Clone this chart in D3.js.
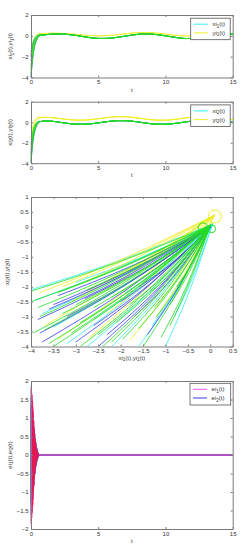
<!DOCTYPE html>
<html>
<head>
<meta charset="utf-8">
<script src="https://cdn.jsdelivr.net/npm/d3@7"></script>
<style>
  body { margin: 0; background: #fff; }
  text { font-family: "Liberation Sans", Arial, sans-serif; }
</style>
</head>
<body>
<div id="chart"></div>
<script>
// ---- time grids ----
const tEarly = [0, 0.1, 0.2, 0.3, 0.4, 0.5, 0.6];
const tLate = [0.8, 1, 1.5, 2, 2.5, 3, 3.5, 4, 4.5, 5, 5.5, 6, 6.5, 7, 7.5, 8, 8.5, 9, 9.5, 10,
               10.5, 11, 11.5, 12, 12.5, 13, 13.5, 14, 14.5, 15];

// ---- panel 1 : xi1 / yi1 ----
const p1SteadyX = [0.08, 0.1, 0.16, 0.18, 0.16, 0.1, 0.01, -0.1, -0.19, -0.25, -0.25, -0.21, -0.13, -0.03, 0.07,
                   0.15, 0.18, 0.16, 0.1, 0.0, -0.1, -0.2, -0.26, -0.25, -0.2, -0.11, -0.01, 0.09, 0.16, 0.18];
const p1SteadyY = [0.2, 0.23, 0.25, 0.25, 0.22, 0.18, 0.12, 0.06, 0.02, 0.0, 0.01, 0.05, 0.12, 0.2, 0.27,
                   0.31, 0.32, 0.3, 0.25, 0.17, 0.09, 0.02, -0.01, -0.01, 0.02, 0.07, 0.12, 0.16, 0.17, 0.17];
const p1EarlyCyan = [[-2.8, -1.7, -1.0, -0.55, -0.25, -0.05, 0.05], [-1.4, -0.75, -0.35, -0.12, 0.0, 0.06, 0.08]];
const p1EarlyBlue = [[-4.0, -2.5, -1.5, -0.85, -0.45, -0.2, -0.05], [-2.0, -1.1, -0.6, -0.3, -0.1, 0.02, 0.07]];
const p1EarlyYellow = [[-3.0, -1.6, -0.8, -0.3, 0.0, 0.15, 0.2], [-1.8, -0.9, -0.4, -0.1, 0.08, 0.18, 0.2]];
const p1EarlyGreen = [[-3.6, -2.2, -1.3, -0.75, -0.4, -0.15, 0.0], [-3.2, -1.9, -1.1, -0.6, -0.3, -0.1, 0.03],
                      [-2.4, -1.4, -0.8, -0.4, -0.15, 0.0, 0.06], [-1.6, -0.9, -0.45, -0.2, -0.05, 0.05, 0.08],
                      [-3.9, -2.35, -1.4, -0.8, -0.42, -0.17, -0.02]];

// ---- panel 2 : xi2 / yi2 ----
const p2SteadyX = [0.08, 0.12, 0.1, 0.02, -0.08, -0.16, -0.2, -0.2, -0.15, -0.07, 0.03, 0.11, 0.15, 0.15, 0.1,
                   0.02, -0.08, -0.16, -0.2, -0.2, -0.15, -0.07, 0.03, 0.11, 0.15, 0.15, 0.12, 0.08, 0.03, -0.01];
const p2SteadyY = [0.45, 0.48, 0.45, 0.38, 0.3, 0.23, 0.2, 0.21, 0.26, 0.34, 0.43, 0.5, 0.54, 0.53, 0.48,
                   0.4, 0.31, 0.24, 0.2, 0.2, 0.25, 0.33, 0.42, 0.49, 0.53, 0.53, 0.49, 0.42, 0.33, 0.26];
const p2EarlyCyan = [[-3.4, -1.9, -1.05, -0.55, -0.22, -0.05, 0.05], [-2.0, -1.0, -0.5, -0.2, -0.03, 0.05, 0.07]];
const p2EarlyBlue = [[-3.9, -2.4, -1.4, -0.8, -0.4, -0.15, 0.0], [-3.0, -1.8, -1.05, -0.55, -0.25, -0.06, 0.04]];
const p2EarlyYellow = [[-3.5, -1.7, -0.7, -0.1, 0.2, 0.35, 0.42], [-2.5, -1.1, -0.35, 0.05, 0.28, 0.4, 0.44],
                       [-1.5, -0.6, -0.1, 0.2, 0.35, 0.42, 0.45]];
const p2EarlyGreen = [[-4.0, -2.3, -1.3, -0.7, -0.35, -0.12, 0.0], [-3.7, -2.1, -1.15, -0.6, -0.28, -0.08, 0.03],
                      [-3.2, -1.8, -1.0, -0.5, -0.2, -0.04, 0.05], [-2.7, -1.5, -0.8, -0.4, -0.15, 0.0, 0.06],
                      [-2.2, -1.2, -0.6, -0.28, -0.08, 0.03, 0.07]];

// ---- panel 3 : phase plane, each line = [x0, y0, xMid, yMid] ----
const p3EndCyan = [0.05, 0.1], p3EndBlue = [0.0, 0.0], p3EndYellow = [0.1, 0.4], p3EndGreen = [0.0, 0.05];
const p3Cyan = [[-4.0, -2.1, -1.98, -1.1], [-3.9, -2.45, -1.93, -1.3], [-3.75, -2.9, -1.85, -1.54], [-3.5, -3.35, -1.73, -1.79],
                [-3.2, -3.9, -1.58, -2.1], [-2.75, -4.0, -1.35, -2.17], [-2.2, -4.0, -1.08, -2.2], [-1.6, -4.0, -0.78, -2.2],
                [-1.0, -4.0, -0.48, -2.2], [-3.0, -1.85, -1.48, -0.98], [-2.6, -3.1, -1.28, -1.68], [-1.9, -2.2, -0.93, -1.2],
                [-1.3, -3.3, -0.63, -1.8], [-0.8, -3.0, -0.38, -1.65]];
const p3Blue = [[-3.75, -3.85, -1.88, -2.11], [-3.85, -3.1, -1.93, -1.7], [-3.6, -2.75, -1.8, -1.51], [-3.5, -2.6, -1.75, -1.43],
                [-3.2, -3.0, -1.6, -1.65], [-3.0, -3.85, -1.5, -2.13], [-2.6, -3.3, -1.3, -1.85], [-2.3, -3.6, -1.15, -2.03],
                [-2.0, -2.5, -1.0, -1.4], [-2.8, -2.4, -1.4, -1.32], [-1.7, -3.0, -0.85, -1.72], [-1.4, -3.6, -0.7, -2.0],
                [-3.4, -2.3, -1.7, -1.27], [-2.5, -4.0, -1.25, -2.25], [-1.6, -2.0, -0.8, -1.15], [-3.8, -3.55, -1.9, -1.95]];
const p3Yellow = [[-3.8, -2.2, -1.85, -1.0], [-3.3, -2.0, -1.6, -0.9], [-2.9, -1.9, -1.4, -0.85], [-3.7, -3.3, -1.8, -1.6],
                  [-3.4, -3.75, -1.65, -1.86], [-2.7, -3.7, -1.3, -1.87], [-2.3, -2.9, -1.1, -1.43], [-1.8, -3.8, -0.85, -1.95],
                  [-2.0, -1.6, -0.95, -0.7], [-1.2, -3.0, -0.55, -1.5], [-3.1, -2.5, -1.5, -1.17], [-2.75, -2.15, -1.33, -0.98]];
const p3Green = [[-4.0, -2.15, -2.0, -1.15], [-4.0, -2.5, -2.0, -1.35], [-3.85, -2.7, -1.93, -1.46], [-3.8, -3.0, -1.9, -1.62],
                 [-3.7, -3.45, -1.85, -1.87], [-3.6, -3.9, -1.8, -2.13], [-3.4, -2.2, -1.7, -1.18], [-3.3, -2.9, -1.65, -1.57],
                 [-3.1, -3.55, -1.55, -1.93], [-2.9, -3.2, -1.45, -1.76], [-2.75, -2.1, -1.38, -1.13], [-2.6, -2.7, -1.3, -1.48],
                 [-2.5, -3.6, -1.25, -2.0], [-2.4, -4.0, -1.2, -2.23], [-2.2, -2.35, -1.1, -1.28], [-2.1, -3.2, -1.05, -1.8],
                 [-1.95, -3.75, -0.98, -2.1], [-1.8, -2.6, -0.9, -1.46], [-1.6, -3.4, -0.8, -1.92], [-1.5, -4.0, -0.75, -2.2],
                 [-1.35, -2.2, -0.68, -1.25], [-1.2, -3.0, -0.6, -1.7], [-1.1, -3.7, -0.55, -2.05], [-0.9, -2.6, -0.45, -1.45],
                 [-2.2, -3.85, -1.1, -2.15], [-3.95, -3.55, -1.98, -1.92], [-3.0, -2.6, -1.5, -1.42], [-0.75, -2.0, -0.38, -1.15],
                 [-3.5, -4.0, -1.75, -2.18], [-2.9, -4.0, -1.45, -2.2], [-0.9, -3.3, -0.45, -1.8], [-1.25, -2.7, -0.62, -1.5]];
const p3MarkX = [0.1, 0.03, -0.16];
const p3MarkY = [0.35, -0.06, -0.03];

// ---- panel 4 : errors, t step 0.02 up to 0.6, then flat ----
const tErr = [0, 0.02, 0.04, 0.06, 0.08, 0.1, 0.12, 0.14, 0.16, 0.18, 0.2, 0.22, 0.24, 0.26, 0.28, 0.3,
              0.32, 0.34, 0.36, 0.38, 0.4, 0.42, 0.44, 0.46, 0.48, 0.5, 0.52, 0.54, 0.56, 0.58, 0.6];
const e1Red = [1.85, -1.8, 1.75, -1.7, 1.62, -1.55, 1.45, -1.35, 1.2, -1.05, 0.92, -0.82, 0.72, -0.64, 0.56, -0.48,
               0.42, -0.36, 0.31, -0.26, 0.22, -0.18, 0.15, -0.12, 0.1, -0.08, 0.06, -0.04, 0.02, -0.01, 0];
const e1Mag = [-1.9, 1.8, -1.72, 1.66, -1.58, 1.5, -1.4, 1.3, -1.15, 1.0, -0.88, 0.78, -0.68, 0.6, -0.52, 0.45,
               -0.39, 0.34, -0.29, 0.25, -0.21, 0.17, -0.14, 0.11, -0.09, 0.07, -0.05, 0.03, -0.02, 0.01, 0];
const e2BlueA = [1.55, -1.6, 1.55, -1.5, 1.45, -1.4, 1.3, -1.2, 1.1, -1.0, 0.9, -0.82, 0.74, -0.66, 0.58, -0.52,
                 0.46, -0.4, 0.35, -0.3, 0.26, -0.22, 0.19, -0.16, 0.13, -0.1, 0.08, -0.06, 0.04, -0.02, 0];
const e2BlueB = [-1.3, 1.35, -1.3, 1.25, -1.2, 1.15, -1.05, 0.98, -0.9, 0.82, -0.74, 0.66, -0.58, 0.52, -0.46, 0.4,
                 -0.35, 0.3, -0.26, 0.22, -0.19, 0.16, -0.13, 0.11, -0.09, 0.07, -0.05, 0.04, -0.03, 0.01, 0];

const xTicksT = [0, 5, 10, 15];
const yTicks12 = [-4, -2, 0, 2];
const xTicks3 = [-4, -3.5, -3, -2.5, -2, -1.5, -1, -0.5, 0, 0.5];
const yTicks3 = [-4, -3.5, -3, -2.5, -2, -1.5, -1, -0.5, 0, 0.5, 1];
const yTicks4 = [-2, -1.5, -1, -0.5, 0, 0.5, 1, 1.5, 2];

const col = {cyan: "#30eef0", blue: "#3a3ae6", yellow: "#eeee22", green: "#22dd22",
             red: "#f01848", mag: "#ff55ee", axis: "#7a7a7a", text: "#333"};

const svg = d3.select("#chart").append("svg").attr("width", 250).attr("height", 550);

const left = 31, right = 232.7;

function frame(g, x, y, xt, yt, x0, x1, y0, y1) {
  g.append("g").attr("transform", "translate(0," + y1 + ")")
    .call(d3.axisBottom(x).tickValues(xt).tickSize(-2).tickSizeOuter(0).tickPadding(2.5).tickFormat(d3.format("")));
  g.append("g").attr("transform", "translate(0," + y0 + ")")
    .call(d3.axisTop(x).tickValues(xt).tickSize(-2).tickSizeOuter(0).tickFormat(""));
  g.append("g").attr("transform", "translate(" + x0 + ",0)")
    .call(d3.axisLeft(y).tickValues(yt).tickSize(-2).tickSizeOuter(0).tickPadding(2.5).tickFormat(d3.format("")));
  g.append("g").attr("transform", "translate(" + x1 + ",0)")
    .call(d3.axisRight(y).tickValues(yt).tickSize(-2).tickSizeOuter(0).tickFormat(""));
  g.selectAll(".domain").attr("stroke", col.axis);
  g.selectAll(".tick line").attr("stroke", col.axis);
  g.selectAll(".tick text").attr("fill", col.text).style("font-size", "6px");
}

function subLabel(g, parts, x, y, rotate) {
  const t = g.append("text").attr("x", x).attr("y", y).attr("text-anchor", "middle")
    .attr("fill", col.text).style("font-size", "6px");
  if (rotate) t.attr("transform", "rotate(-90," + x + "," + y + ")");
  parts.forEach(p => {
    t.append("tspan").text(p[0]);
    t.append("tspan").attr("dy", 1.5).style("font-size", "4.5px").text(p[1]);
    t.append("tspan").attr("dy", -1.5).text(p[2]);
  });
}

function legend(g, x0, y0, w, h, items) {
  g.append("rect").attr("x", x0).attr("y", y0).attr("width", w).attr("height", h)
    .attr("fill", "#fff").attr("stroke", "#555").attr("stroke-width", 0.8);
  items.forEach((it, i) => {
    const yy = y0 + 6 + i * 8.7;
    g.append("line").attr("x1", x0 + 3).attr("x2", x0 + 17).attr("y1", yy).attr("y2", yy)
      .attr("stroke", it.color).attr("stroke-width", 1);
    subLabel(g, [it.label], x0 + 28, yy + 2, false);
  });
}

function timePanel(top, bottom, steadyX, steadyY, early, idx) {
  const g = svg.append("g");
  const x = d3.scaleLinear().domain([0, 15]).range([left, right]);
  const y = d3.scaleLinear().domain([-4, 2]).range([bottom, top]);
  const line = d3.line().x(d => x(d[0])).y(d => y(d[1])).curve(d3.curveMonotoneX);
  const groups = [["cyan", early.cyan, steadyX], ["yellow", early.yellow, steadyY],
                  ["blue", early.blue, steadyX], ["green", early.green, steadyX]];
  groups.forEach(([c, list, steady]) => {
    list.forEach(vals => {
      const pts = tEarly.map((t, i) => [t, vals[i]]).concat(tLate.map((t, i) => [t, steady[i]]));
      g.append("path").attr("d", line(pts)).attr("fill", "none").attr("stroke", col[c]).attr("stroke-width", 0.75);
    });
  });
  frame(g, x, y, xTicksT, yTicks12, left, right, top, bottom);
  g.append("text").attr("x", x(7.5)).attr("y", bottom + 14).attr("text-anchor", "middle")
    .attr("fill", col.text).style("font-size", "6px").text("t");
  subLabel(g, [["xi", idx, "(t),"], ["yi", idx, "(t)"]], 12, (top + bottom) / 2, true);
  legend(g, 190.7, top + 3.2, 39.5, 21.5, [
    {color: col.cyan, label: ["xi", idx, "(t)"]},
    {color: col.yellow, label: ["yi", idx, "(t)"]}
  ]);
}

timePanel(15, 77.5, p1SteadyX, p1SteadyY,
  {cyan: p1EarlyCyan, blue: p1EarlyBlue, yellow: p1EarlyYellow, green: p1EarlyGreen}, "1");
timePanel(101.7, 163.2, p2SteadyX, p2SteadyY,
  {cyan: p2EarlyCyan, blue: p2EarlyBlue, yellow: p2EarlyYellow, green: p2EarlyGreen}, "2");

// ---- panel 3 ----
(function () {
  const top = 197, bottom = 346.5;
  const g = svg.append("g");
  const x = d3.scaleLinear().domain([-4, 0.5]).range([left, right]);
  const y = d3.scaleLinear().domain([-4, 1]).range([bottom, top]);
  g.append("clipPath").attr("id", "clip3").append("rect")
    .attr("x", left).attr("y", top).attr("width", right - left).attr("height", bottom - top);
  const plot = g.append("g").attr("clip-path", "url(#clip3)");
  const line = d3.line().x(d => x(d[0])).y(d => y(d[1])).curve(d3.curveMonotoneX);
  const groups = [[p3Cyan, p3EndCyan, col.cyan], [p3Yellow, p3EndYellow, col.yellow],
                  [p3Blue, p3EndBlue, col.blue], [p3Green, p3EndGreen, col.green]];
  groups.forEach(([list, end, c]) => {
    list.forEach(r => {
      plot.append("path").attr("d", line([[r[0], r[1]], [r[2], r[3]], end]))
        .attr("fill", "none").attr("stroke", c).attr("stroke-width", 0.8);
    });
  });
  const mcol = [col.yellow, col.green, col.green], mr = [6.5, 4, 5];
  p3MarkX.forEach((mx, i) => {
    plot.append("circle").attr("cx", x(mx)).attr("cy", y(p3MarkY[i])).attr("r", mr[i])
      .attr("fill", "none").attr("stroke", mcol[i]).attr("stroke-width", 1);
  });
  frame(g, x, y, xTicks3, yTicks3, left, right, top, bottom);
  subLabel(g, [["xi", "1", "(t),"], ["yi", "1", "(t)"]], x(-1.75), bottom + 13, false);
  subLabel(g, [["xi", "2", "(t),"], ["yi", "2", "(t)"]], 8.5, (top + bottom) / 2, true);
})();

// ---- panel 4 ----
(function () {
  const top = 381, bottom = 529;
  const g = svg.append("g");
  const x = d3.scaleLinear().domain([0, 15]).range([left, right]);
  const y = d3.scaleLinear().domain([-2, 2]).range([bottom, top]);
  const line = d3.line().x(d => x(d[0])).y(d => y(d[1]));
  const series = [[e2BlueA, col.blue, 0.8], [e1Mag, col.mag, 0.8], [e2BlueB, col.blue, 0.8], [e1Red, col.red, 0.55]];
  series.forEach(([vals, c, w]) => {
    const pts = tErr.map((t, i) => [t, vals[i]]).concat([[15, 0]]);
    g.append("path").attr("d", line(pts)).attr("fill", "none").attr("stroke", c).attr("stroke-width", w);
  });
  frame(g, x, y, xTicksT, yTicks4, left, right, top, bottom);
  g.append("text").attr("x", x(7.5)).attr("y", bottom + 14).attr("text-anchor", "middle")
    .attr("fill", col.text).style("font-size", "6px").text("t");
  subLabel(g, [["ei", "1", "(t),"], ["ei", "2", "(t)"]], 11.5, (top + bottom) / 2, true);
  legend(g, 190, 383.3, 40.7, 21.7, [
    {color: col.mag, label: ["ei", "1", "(t)"]},
    {color: col.blue, label: ["ei", "2", "(t)"]}
  ]);
})();
</script>
</body>
</html>
